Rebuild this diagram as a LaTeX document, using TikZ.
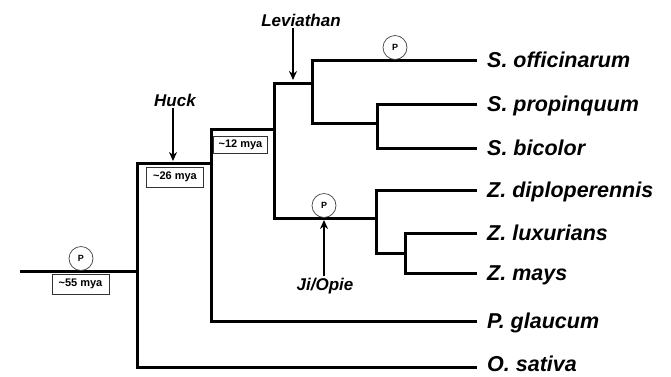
\documentclass[tikz,border=0pt]{standalone}
\usepackage{fontspec}
\setmainfont{Liberation Sans}
\usetikzlibrary{arrows.meta}
\begin{document}
\begin{tikzpicture}[x=1pt,y=-1pt,
  tree/.style={line width=3pt, line join=miter, line cap=butt},
  taxon/.style={anchor=west, inner xsep=10pt, inner ysep=0pt, text height=15.4pt, text depth=0pt, font=\fontsize{21.5}{24}\selectfont\bfseries\itshape},
  evt/.style={inner sep=2pt, font=\fontsize{17}{20}\selectfont\bfseries\itshape},
  mya/.style={draw=black!80, line width=0.8pt, minimum height=20pt, minimum width=57pt, inner xsep=5pt, font=\fontsize{11}{13}\selectfont\bfseries},
  pcirc/.style={circle, draw=black!75, line width=0.7pt, minimum size=24pt, inner sep=0pt, font=\fontsize{9}{10}\selectfont\bfseries},
  arr/.style={line width=1.8pt, -{Stealth[length=9pt,width=8pt]}}
]
\useasboundingbox (0,0) rectangle (671,376);
% junction coordinates
\coordinate (r0) at (20,271);
\coordinate (rootv) at (137,271);
\coordinate (huckv) at (211,163);
\coordinate (n12v) at (274,129);
\coordinate (levv) at (312,83);
\coordinate (sv) at (377,123);
\coordinate (zeav) at (376,218);
\coordinate (z2v) at (405,253);
\coordinate (osatend) at (477,367);
% taxa
\node[taxon] (soff) at (477,60) {S. officinarum};
\node[taxon] (sprop) at (477,104) {S. propinquum};
\node[taxon] (sbic) at (477,148) {S. bicolor};
\node[taxon] (zdip) at (477,190) {Z. diploperennis};
\node[taxon] (zlux) at (477,233) {Z. luxurians};
\node[taxon] (zmays) at (477,273) {Z. mays};
\node[taxon] (pgla) at (477,321) {P. glaucum};
\node[taxon] (osat) at (477,364) {O. sativa};
% tree
\draw[tree] (r0) -- (rootv);
\draw[tree] (osatend) -| (huckv -| rootv) -- (huckv);
\draw[tree] (pgla.west) -| (n12v -| huckv) -- (n12v);
\draw[tree] (zeav) -| (levv -| n12v) -- (levv);
\draw[tree] (soff.west) -| (sv -| levv) -- (sv);
\draw[tree] (sprop.west) -| (sbic.west -| sv) -- (sbic.west);
\draw[tree] (zdip.west) -| (z2v -| zeav) -- (z2v);
\draw[tree] (zlux.west) -| (zmays.west -| z2v) -- (zmays.west);
% dating boxes
\node[mya] (m55) at (80.5,284) {\textasciitilde55 mya};
\node[mya] (m26) at (175,177) {\textasciitilde26 mya};
\node[mya, minimum width=53pt, minimum height=17pt] (m12) at (240.5,145) {\textasciitilde12 mya};
% P circles
\node[pcirc] (p1) at (81,258.5) {P};
\node[pcirc] (p2) at (395,47.5) {P};
\node[pcirc] (p3) at (324,205.5) {P};
% events
\node[evt] (huck) at (175,100) {Huck};
\node[evt] (lev) at (301,20) {Leviathan};
\node[evt] (ji) at (325,286) {Ji/Opie};
\coordinate (huckT) at (173,161);
\coordinate (levT) at (293,80);
\coordinate (jiT) at (324,220);
\draw[arr] (huck.south -| huckT) -- (huckT);
\draw[arr] (lev.south -| levT) -- (levT);
\draw[arr] (ji.north -| jiT) -- (jiT);
\end{tikzpicture}
\end{document}
